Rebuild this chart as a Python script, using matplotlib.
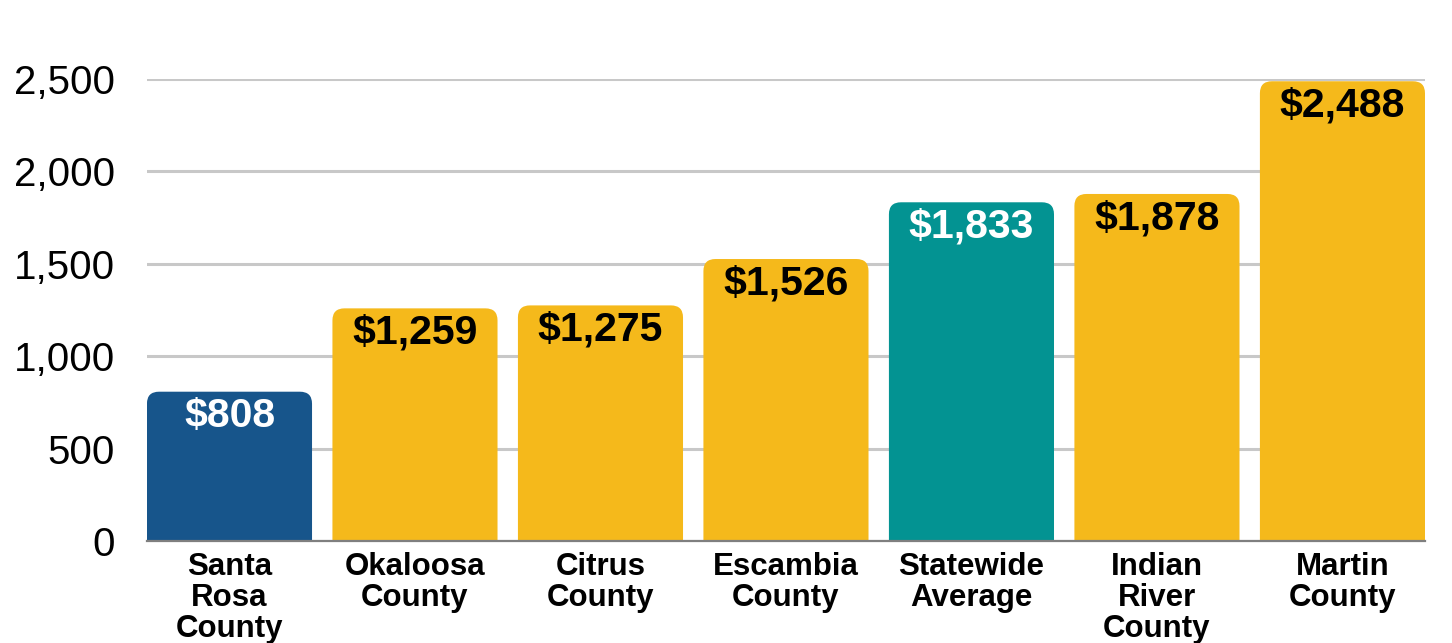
import matplotlib.pyplot as plt
from matplotlib.patches import FancyBboxPatch

# data
counties = ['Santa\nRosa\nCounty', 'Okaloosa\nCounty', 'Citrus\nCounty', 'Escambia\nCounty',
            'Statewide\nAverage', 'Indian\nRiver\nCounty', 'Martin\nCounty']
values = [808, 1259, 1275, 1526, 1833, 1878, 2488]
colors = ['#17558B', '#F5B91B', '#F5B91B', '#F5B91B', '#039392', '#F5B91B', '#F5B91B']
label_colors = ['white', 'black', 'black', 'black', 'white', 'black', 'black']
yticks = [0, 500, 1000, 1500, 2000, 2500]

plt.rcParams['font.family'] = ['Liberation Sans', 'DejaVu Sans']

fig = plt.figure(figsize=(14.52, 6.43), dpi=100)
ax = fig.add_axes([0.1012, 0.1586, 0.8802, 0.7185])

width = 0.89
x = list(range(len(values)))
# rounded top corners: draw rounded boxes starting below zero so the bottom is clipped
for i, v in enumerate(values):
    p = FancyBboxPatch((i - width / 2, -200), width, v + 200,
                       boxstyle='round,pad=0,rounding_size=0.065',
                       mutation_aspect=1000, facecolor=colors[i], edgecolor='none',
                       zorder=3, clip_on=True)
    ax.add_patch(p)
    ax.annotate('${:,}'.format(v), (i, v), xytext=(0, -17.5), textcoords='offset points',
                ha='center', va='center', fontsize=29.5, fontweight='bold',
                color=label_colors[i], zorder=4)

ax.set_xlim(-width / 2, len(values) - 1 + width / 2)
ax.set_ylim(0, 2500)
ax.set_yticks(yticks)
ax.set_yticklabels(['{:,}'.format(t) for t in yticks], fontsize=29)
ax.set_xticks(x)
ax.set_xticklabels(counties, fontsize=22.5, fontweight='bold', linespacing=1.03, va='top')
ax.tick_params(axis='y', length=0, pad=23)
ax.tick_params(axis='x', length=0, pad=8)

ax.grid(axis='y', color='#C8C8C8', linewidth=2.2, zorder=0)
ax.set_axisbelow(True)
for s in ['top', 'right', 'left']:
    ax.spines[s].set_visible(False)
ax.spines['bottom'].set_color('#7F7F7F')
ax.spines['bottom'].set_linewidth(1.6)
ax.spines['bottom'].set_zorder(5)

fig.savefig('out.png', dpi=100)
